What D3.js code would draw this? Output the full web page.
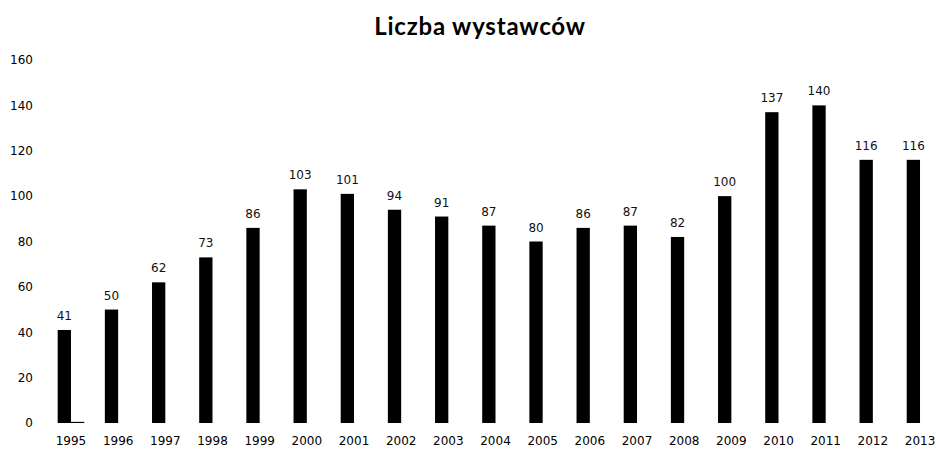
<!DOCTYPE html>
<html>

<head>
    <meta charset="utf-8">
    <script src="https://d3js.org/d3.v7.min.js"></script>
    <style>
        body { margin: 0; background: #fff; }
        text { font-family: "DejaVu Sans", sans-serif; fill: #000; }
    </style>
</head>

<body>
</body>

<script>
    // data
    let years = ["1995", "1996", "1997", "1998", "1999", "2000", "2001", "2002", "2003", "2004",
                 "2005", "2006", "2007", "2008", "2009", "2010", "2011", "2012", "2013"];
    let exhibitors = [41, 50, 62, 73, 86, 103, 101, 94, 91, 87, 80, 86, 87, 82, 100, 137, 140, 116, 116];
    // second (almost empty) series, only visible as a thin line next to 1995
    let second = [0.5, 0, 0, 0, 0, 0, 0, 0, 0, 0, 0, 0, 0, 0, 0, 0, 0, 0, 0];
    let yTicks = [0, 20, 40, 60, 80, 100, 120, 140, 160];
    let title = "Liczba wystawców";

    let width = 936,
        height = 449;

    let svg = d3.select("body")
        .append("svg")
            .attr("width", width)
            .attr("height", height);

    let x = d3.scaleBand()
        .domain(years)
        .range([47.4, 943.6])
        .padding(0);

    let y = d3.scaleLinear()
        .domain([0, 160])
        .range([423, 60]);

    let bw = x.bandwidth() * 0.282;
    let center = d => x(d) + x.bandwidth() / 2;

    let data = years.map((d, i) => ({year: d, value: exhibitors[i], extra: second[i]}));

    // title
    svg.append("text")
        .attr("x", 480)
        .attr("y", 35)
        .attr("text-anchor", "middle")
        .style("font-family", "Lato, sans-serif")
        .style("font-weight", "bold")
        .style("font-size", "24px")
        .style("letter-spacing", "0.8px")
        .text(title);

    // y axis labels (no line, no ticks)
    let yAxis = d3.axisLeft(y)
        .tickValues(yTicks)
        .tickSize(0)
        .tickPadding(0);

    svg.append("g")
        .attr("transform", "translate(33,0)")
        .call(yAxis)
        .call(g => g.select(".domain").remove())
        .selectAll("text")
            .style("font-family", "DejaVu Sans, sans-serif")
            .style("font-size", "12px")
            .attr("fill", "#111");

    // x axis labels
    let xAxis = d3.axisBottom(x)
        .tickSize(0)
        .tickPadding(0);

    svg.append("g")
        .attr("transform", "translate(0,436)")
        .call(xAxis)
        .call(g => g.select(".domain").remove())
        .selectAll("text")
            .attr("dy", "0.71em")
            .style("font-family", "DejaVu Sans, sans-serif")
            .style("font-size", "12px")
            .attr("fill", "#111");

    // bars
    svg.append("g")
        .selectAll("rect")
        .data(data)
        .join("rect")
            .attr("x", d => center(d.year) - bw)
            .attr("y", d => y(d.value))
            .attr("width", bw)
            .attr("height", d => y(0) - y(d.value))
            .attr("fill", "#000");

    svg.append("g")
        .selectAll("rect")
        .data(data.filter(d => d.extra > 0))
        .join("rect")
            .attr("x", d => center(d.year))
            .attr("y", d => y(d.extra))
            .attr("width", bw)
            .attr("height", d => y(0) - y(d.extra))
            .attr("fill", "#000");

    // value labels
    svg.append("g")
        .selectAll("text")
        .data(data)
        .join("text")
            .attr("x", d => center(d.year) - bw / 2)
            .attr("y", d => y(d.value) - 10)
            .attr("text-anchor", "middle")
            .style("font-size", "12px")
            .style("fill", "#111")
            .text(d => d.value);
</script>

</html>
